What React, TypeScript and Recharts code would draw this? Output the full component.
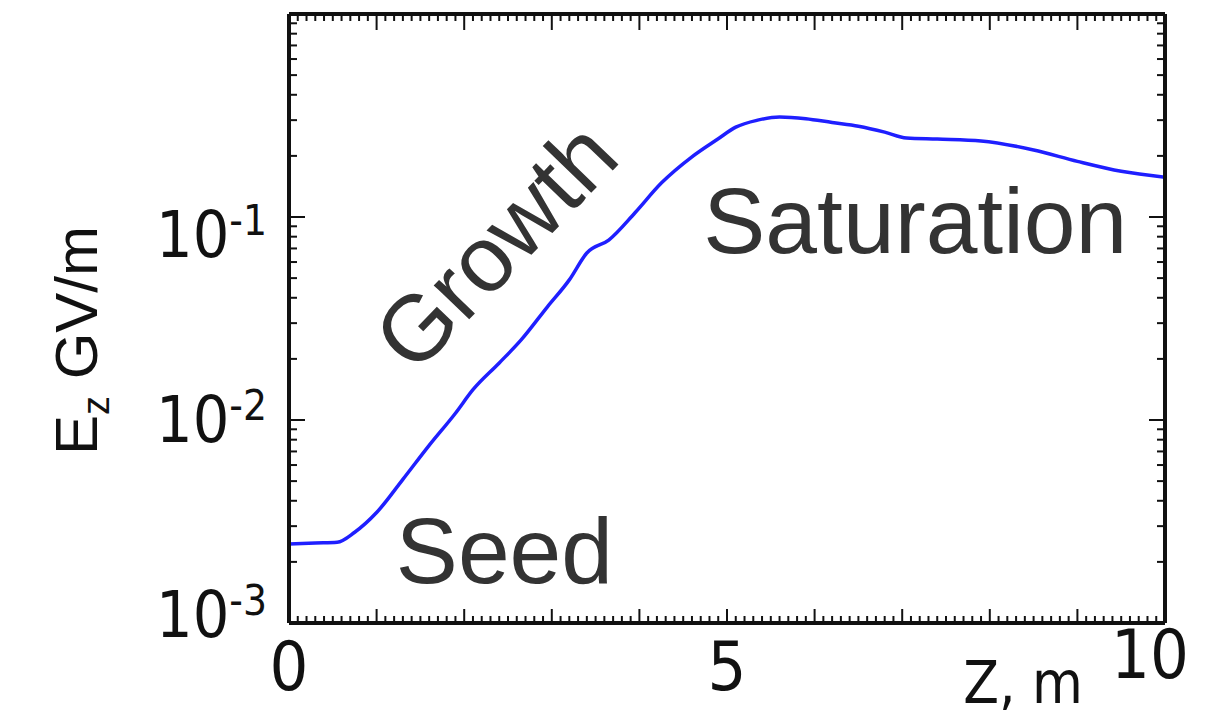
import { LineChart, Line, XAxis, YAxis, ReferenceDot } from 'recharts'

// z position along the undulator (m)
const zMeters = [0, 0.3, 0.55, 0.75, 1.0, 1.3, 1.6, 1.9, 2.1, 2.4, 2.65, 2.95, 3.2, 3.4, 3.65, 3.95, 4.25, 4.6, 4.9, 5.1, 5.35, 5.6, 5.9, 6.2, 6.5, 6.8, 7.05, 7.4, 7.9, 8.5, 9.0, 9.5, 10]
// field amplitude Ez (GV/m)
const ezField = [0.00245, 0.00248, 0.0025, 0.0028, 0.0035, 0.0051, 0.0075, 0.0108, 0.0141, 0.0191, 0.0248, 0.0361, 0.049, 0.0665, 0.077, 0.105, 0.147, 0.198, 0.243, 0.277, 0.3, 0.311, 0.305, 0.292, 0.28, 0.262, 0.245, 0.242, 0.237, 0.214, 0.188, 0.168, 0.157]

const xLabelTicks = [0, 5, 10]
const yLabelTicks = [0.001, 0.01, 0.1]
const yLabelExp = ['-3', '-2', '-1']

const phaseNames = ['Seed', 'Growth', 'Saturation']
const phaseZ = [1.22, 2.62, 4.73]
const phaseE = [0.00157, 0.056, 0.0665]

const data = zMeters.map((z, i) => ({ z, e: ezField[i] }))

const xTicks = Array.from({ length: 101 }, (_, i) => i / 10)
const yTicks: number[] = []
for (const k of [-3, -2, -1]) {
  for (let m = 1; m <= 9; m++) yTicks.push(+(m * Math.pow(10, k)).toPrecision(3))
}
yTicks.push(1)

const INK = '#111'
const AXIS_FONT = '"Liberation Sans Narrow", "DejaVu Sans Condensed", Arial, sans-serif'
const ANNO_FONT = '"Liberation Sans", Arial, sans-serif'

const isWhole = (v: number) => Math.abs(v - Math.round(v)) < 1e-6
const isDecade = (v: number) => isWhole(Math.log10(v))

function BottomTick(props: any) {
  const { x, y, payload } = props
  const v = payload.value
  const len = isWhole(v) ? 14 : 7
  const labelled = xLabelTicks.includes(v)
  return (
    <g>
      <line x1={x} x2={x} y1={y} y2={y - len} stroke={INK} strokeWidth={2} />
      {labelled && (
        <text
          x={v === 10 ? x - 15 : x}
          y={v === 10 ? y + 55 : y + 67}
          textAnchor="middle"
          fontSize={68}
          fontFamily={AXIS_FONT}
          fill={INK}
        >
          {v}
        </text>
      )}
    </g>
  )
}

function TopTick(props: any) {
  const { x, y, payload } = props
  const len = isWhole(payload.value) ? 16 : 7
  return <line x1={x} x2={x} y1={y} y2={y + len} stroke={INK} strokeWidth={2} />
}

function LeftTick(props: any) {
  const { x, y, payload } = props
  const v = payload.value
  const len = isDecade(v) ? 16 : 8
  const idx = yLabelTicks.findIndex((t) => Math.abs(t - v) < 1e-9)
  const baseDy = [14, 22, 40]
  return (
    <g>
      <line x1={x} x2={x + len} y1={y} y2={y} stroke={INK} strokeWidth={2} />
      {idx >= 0 && (
        <text x={x - 22} y={y + baseDy[idx]} textAnchor="end" fontSize={64} fontFamily={AXIS_FONT} fill={INK}>
          10
          <tspan dy={-22} fontSize={42}>
            {yLabelExp[idx]}
          </tspan>
        </text>
      )}
    </g>
  )
}

function RightTick(props: any) {
  const { x, y, payload } = props
  const len = isDecade(payload.value) ? 16 : 8
  return <line x1={x} x2={x - len} y1={y} y2={y} stroke={INK} strokeWidth={2} />
}

function YTitle(props: any) {
  const { viewBox } = props
  const x = viewBox.x + 89
  const y = viewBox.y + viewBox.height / 2 + 22
  return (
    <text
      x={x}
      y={y}
      textAnchor="middle"
      transform={`rotate(-90 ${x} ${y})`}
      fontSize={60}
      fontFamily={ANNO_FONT}
      fill={INK}
    >
      E
      <tspan dy={12} fontSize={38}>
        z
      </tspan>
      <tspan dy={-12}> GV/m</tspan>
    </text>
  )
}

function XTitle(props: any) {
  const { viewBox } = props
  return (
    <text
      x={viewBox.x + viewBox.width - 142}
      y={viewBox.y + 80}
      textAnchor="middle"
      fontSize={58}
      fontFamily={AXIS_FONT}
      fill={INK}
    >
      Z, m
    </text>
  )
}

function PhaseText(props: any) {
  const { viewBox, name } = props
  const x = viewBox.x
  const y = viewBox.y
  const rotated = name === 'Growth'
  return (
    <text
      x={x}
      y={y}
      textAnchor={rotated ? 'middle' : 'start'}
      transform={rotated ? `rotate(-46 ${x} ${y})` : undefined}
      fontSize={93}
      fontFamily={ANNO_FONT}
      fill="#333"
    >
      {name}
    </text>
  )
}

export default function App() {
  return (
    <LineChart width={1200} height={708} data={data} margin={{ top: 0, right: 0, bottom: 0, left: 0 }}>
      <XAxis
        xAxisId="b"
        dataKey="z"
        type="number"
        domain={[0, 10]}
        allowDataOverflow
        ticks={xTicks}
        interval={0}
        height={93}
        tickSize={0}
        tickMargin={0}
        tickLine={false}
        tick={BottomTick}
        axisLine={{ stroke: INK, strokeWidth: 4 }}
        label={<XTitle />}
      />
      <XAxis
        xAxisId="t"
        dataKey="z"
        orientation="top"
        type="number"
        domain={[0, 10]}
        allowDataOverflow
        ticks={xTicks}
        interval={0}
        height={6}
        tickSize={0}
        tickMargin={0}
        tickLine={false}
        tick={TopTick}
        axisLine={{ stroke: INK, strokeWidth: 4 }}
      />
      <YAxis
        yAxisId="l"
        dataKey="e"
        type="number"
        scale="log"
        domain={[0.001, 1]}
        allowDataOverflow
        ticks={yTicks}
        interval={0}
        width={281}
        tickSize={0}
        tickMargin={0}
        tickLine={false}
        tick={LeftTick}
        axisLine={{ stroke: INK, strokeWidth: 4 }}
        label={<YTitle />}
      />
      <YAxis
        yAxisId="r"
        dataKey="e"
        orientation="right"
        type="number"
        scale="log"
        domain={[0.001, 1]}
        allowDataOverflow
        ticks={yTicks}
        interval={0}
        width={43}
        tickSize={0}
        tickMargin={0}
        tickLine={false}
        tick={RightTick}
        axisLine={{ stroke: INK, strokeWidth: 4 }}
      />
      <Line
        xAxisId="b"
        yAxisId="l"
        type="monotone"
        dataKey="e"
        stroke="#1f1fff"
        strokeWidth={3.5}
        dot={false}
        isAnimationActive={false}
      />
      {phaseNames.map((name, i) => (
        <ReferenceDot
          key={name}
          xAxisId="b"
          yAxisId="l"
          x={phaseZ[i]}
          y={phaseE[i]}
          r={0}
          fill="none"
          stroke="none"
          label={<PhaseText name={name} />}
        />
      ))}
    </LineChart>
  )
}
